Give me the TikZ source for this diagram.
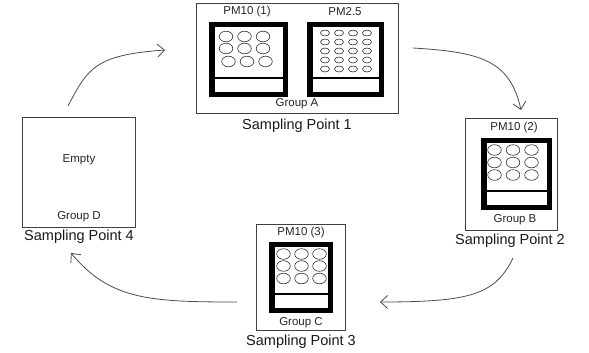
\documentclass[tikz,border=0pt]{standalone}
\usepackage{fontspec}
\setmainfont{Liberation Sans}
\usetikzlibrary{arrows.meta}

% One sampler: black frame, upper chamber (for filters) and lower compartment
\newcommand\samplerframe[4]{%
  \fill[black] (#1,#2) rectangle (#3,#4);
  \fill[white] ({#1+5.5},{#2+5}) rectangle ({#3-5},{#4-20});
  \fill[white] ({#1+5.5},{#4-18}) rectangle ({#3-5},{#4-5});
}

\begin{document}
\begin{tikzpicture}[x=1pt,y=-1pt,
  groupbox/.style={draw=black!75, line width=0.9pt, fill=white, inner sep=0},
  lbl/.style={font=\fontsize{11.5}{13}\selectfont, text=black!85, inner sep=0},
  caption/.style={font=\fontsize{14.5}{17}\selectfont, text=black!90, inner sep=0},
  flow/.style={draw=black!70, line width=0.8pt, -{Straight Barb[length=7pt,width=13pt]}},
  hole/.style={draw=black!80, line width=0.6pt}
]
\useasboundingbox (0,0) rectangle (589,353);

% ---- Sampling point 1 (Group A) ----
\node[groupbox, minimum width=202, minimum height=110] (A) at (297,58) {};
\samplerframe{209}{22}{288}{97}
\samplerframe{307}{22}{384}{97}
\foreach \cx in {226,244.5,263}
  \foreach \cy in {36.5,48.5}
    \draw[hole] (\cx,\cy) ellipse [x radius=6.8, y radius=5.3];
\foreach \cx in {228.5,247,265.5}
  \draw[hole] (\cx,61.5) ellipse [x radius=6.8, y radius=5.3];
\foreach \cx in {325,339,353,367}
  \foreach \cy in {33,42,51,60,69}
    \draw[hole] (\cx,\cy) ellipse [x radius=4.5, y radius=3];
\node[lbl] (pmA1) at (247,12) {PM10 (1)};
\node[lbl] (pmA2) at (345,12) {PM2.5};
\node[lbl] (gA) at (297,104) {Group A};
\node[caption] (sA) at (297,126) {Sampling Point 1};

% ---- Sampling point 2 (Group B) ----
\node[groupbox, minimum width=92, minimum height=112] (B) at (511,174) {};
\samplerframe{481}{138}{552}{210}
\foreach \cx in {494.5,513,531.5}
  \foreach \cy in {150,162.5,175}
    \draw[hole] (\cx,\cy) ellipse [x radius=6.8, y radius=5.3];
\node[lbl] (pmB) at (514,128) {PM10 (2)};
\node[lbl] (gB) at (515,220) {Group B};
\node[caption] (sB) at (510,241) {Sampling Point 2};

% ---- Sampling point 3 (Group C) ----
\node[groupbox, minimum width=89, minimum height=106] (C) at (300.5,277) {};
\samplerframe{269}{242}{333}{313}
\foreach \cx in {283.5,301.5,319.5}
  \foreach \cy in {254,266,278.5}
    \draw[hole] (\cx,\cy) ellipse [x radius=6.8, y radius=5.3];
\node[lbl] (pmC) at (301,233) {PM10 (3)};
\node[lbl] (gC) at (301,323) {Group C};
\node[caption] (sC) at (301,342) {Sampling Point 3};

% ---- Sampling point 4 (Group D) ----
\node[groupbox, minimum width=113, minimum height=110] (D) at (78.5,172) {};
\node[lbl] (eD) at (79,160) {Empty};
\node[lbl] (gD) at (79,217) {Group D};
\node[caption] (sD) at (79,237) {Sampling Point 4};

% ---- Rotation between the sampling points ----
\coordinate (a1s) at (68,106);  \coordinate (a1e) at (165,50);
\coordinate (a2s) at (413,48);  \coordinate (a2e) at (521,110);
\coordinate (a3s) at (513,258); \coordinate (a3e) at (380,302);
\coordinate (a4s) at (237,302); \coordinate (a4e) at (71,253);
\draw[flow] (a1s) .. controls (88,68) and (95,55) .. (a1e);
\draw[flow] (a2s) .. controls (480,52) and (510,60) .. (a2e);
\draw[flow] (a3s) .. controls (495,295) and (470,302) .. (a3e);
\draw[flow] (a4s) .. controls (150,302) and (110,300) .. (a4e);
\end{tikzpicture}
\end{document}
